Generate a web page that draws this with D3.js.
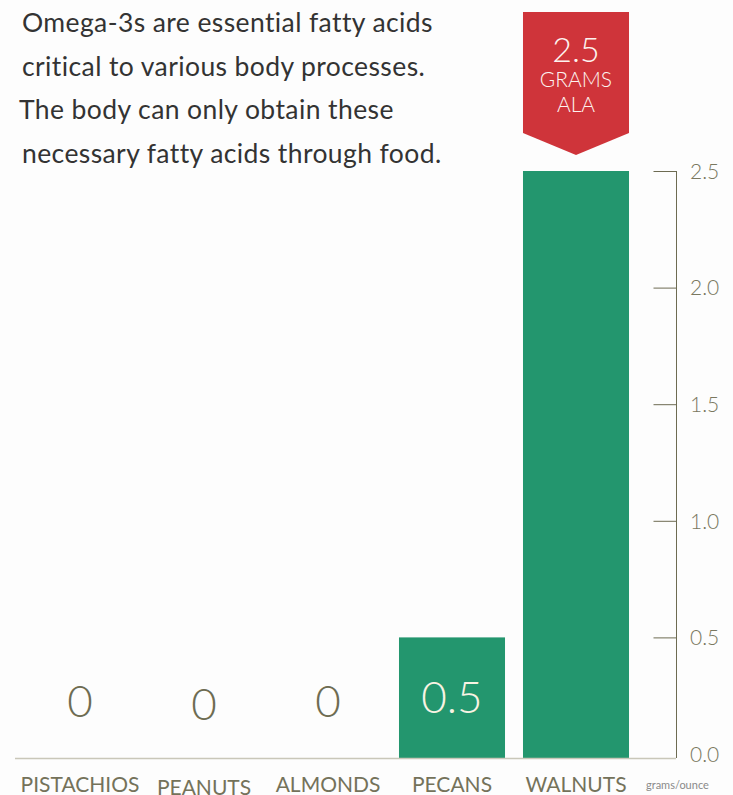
<!DOCTYPE html>
<html>
<head>
<meta charset="utf-8">
<script src="https://cdn.jsdelivr.net/npm/d3@7"></script>
<style>
  html, body { margin: 0; padding: 0; background: #fdfdfd; }
  svg { display: block; }
  text { font-family: Lato, "Open Sans", sans-serif; }
</style>
</head>
<body>
<svg id="chart" width="733" height="795"></svg>
<script>
const categories = ["PISTACHIOS", "PEANUTS", "ALMONDS", "PECANS", "WALNUTS"];
const values = [0, 0, 0, 0.5, 2.5];
const valueLabels = ["0", "0", "0", "0.5", ""];
const labelOffsets = [0, 3, 0, 0, 0];
const tickValues = [0, 0.5, 1.0, 1.5, 2.0, 2.5];
const introLines = [
  "Omega-3s are essential fatty acids",
  "critical to various body processes.",
  "The body can only obtain these",
  "necessary fatty acids through food."
];
const introX = [22, 22, 19, 22];
const bannerLines = ["2.5", "GRAMS", "ALA"];
const unitLabel = "grams/ounce";

const svg = d3.select("#chart");
const W = 733, H = 795;
const baseY = 758;

const x = d3.scaleBand().domain(categories).range([18, 638]).paddingInner(0.145).paddingOuter(0.0725);
const y = d3.scaleLinear().domain([0, 2.5]).range([754, 171]);

// bars
svg.append("g").selectAll("rect").data(values).join("rect")
  .attr("x", (d, i) => x(categories[i]))
  .attr("width", x.bandwidth())
  .attr("y", d => y(d))
  .attr("height", d => d > 0 ? baseY - y(d) : 0)
  .attr("fill", "#23966e");

// baseline
svg.append("line").attr("x1", 15).attr("x2", 676).attr("y1", baseY + 0.5).attr("y2", baseY + 0.5)
  .attr("stroke", "#c9c7b9").attr("stroke-width", 1.5);

// y axis on right
const axisX = 676;
const yAxis = d3.axisLeft(y).tickValues(tickValues).tickSize(23).tickFormat(d3.format(".1f"));
const ag = svg.append("g").attr("transform", `translate(${axisX},0)`).call(yAxis);
ag.select(".domain").attr("stroke", "#6d6b52").attr("d", `M0.5,${y(2.5)}V${baseY}`);
ag.selectAll(".tick line").attr("stroke", "#6d6b52").attr("transform", "translate(0.5,0)");
ag.selectAll(".tick").filter(d => d === 0).select("line").remove();
ag.selectAll(".tick text")
  .attr("x", 14).attr("text-anchor", "start").attr("dy", "0.35em")
  .attr("fill", "#7a7860").attr("font-size", 21).attr("font-weight", 300)
  .style("font-family", "Lato, sans-serif");

// value labels
svg.append("g").selectAll("text").data(values).join("text")
  .attr("x", (d, i) => x(categories[i]) + x.bandwidth() / 2)
  .attr("y", (d, i) => (d > 0 ? (baseY + y(d)) / 2 + 15 : 717) + labelOffsets[i])
  .attr("text-anchor", "middle")
  .attr("font-size", 44).attr("font-weight", 300)
  .attr("fill", (d) => d > 0 ? "#f8f3e3" : "#6e6c52")
  .text((d, i) => valueLabels[i]);

// category labels
svg.append("g").selectAll("text").data(categories).join("text")
  .attr("x", d => x(d) + x.bandwidth() / 2)
  .attr("y", (d, i) => 792 + labelOffsets[i])
  .attr("text-anchor", "middle")
  .attr("font-size", 21).attr("font-weight", 400)
  .attr("fill", "#74725a")
  .text(d => d);

// unit label
svg.append("text").attr("x", 646).attr("y", 789).attr("font-size", 11)
  .attr("fill", "#8a8a8a").text(unitLabel);

// banner
const bx = x("WALNUTS"), bw = x.bandwidth(), bcx = bx + bw / 2;
svg.append("path")
  .attr("d", `M${bx},12H${bx + bw}V133L${bcx},155L${bx},133Z`)
  .attr("fill", "#cf343a");
svg.append("g").selectAll("text").data(bannerLines).join("text")
  .attr("x", bcx)
  .attr("y", (d, i) => [62, 87, 112][i])
  .attr("text-anchor", "middle")
  .attr("font-size", (d, i) => [34, 21, 21][i])
  .attr("font-weight", 300)
  .attr("fill", "#fdf3f0")
  .text(d => d);

// intro text
svg.append("g").selectAll("text").data(introLines).join("text")
  .attr("x", (d, i) => introX[i])
  .attr("y", (d, i) => 32 + i * 43.7)
  .attr("font-size", 26.5)
  .attr("letter-spacing", 0.4)
  .attr("fill", "#333333")
  .text(d => d);
</script>
</body>
</html>
